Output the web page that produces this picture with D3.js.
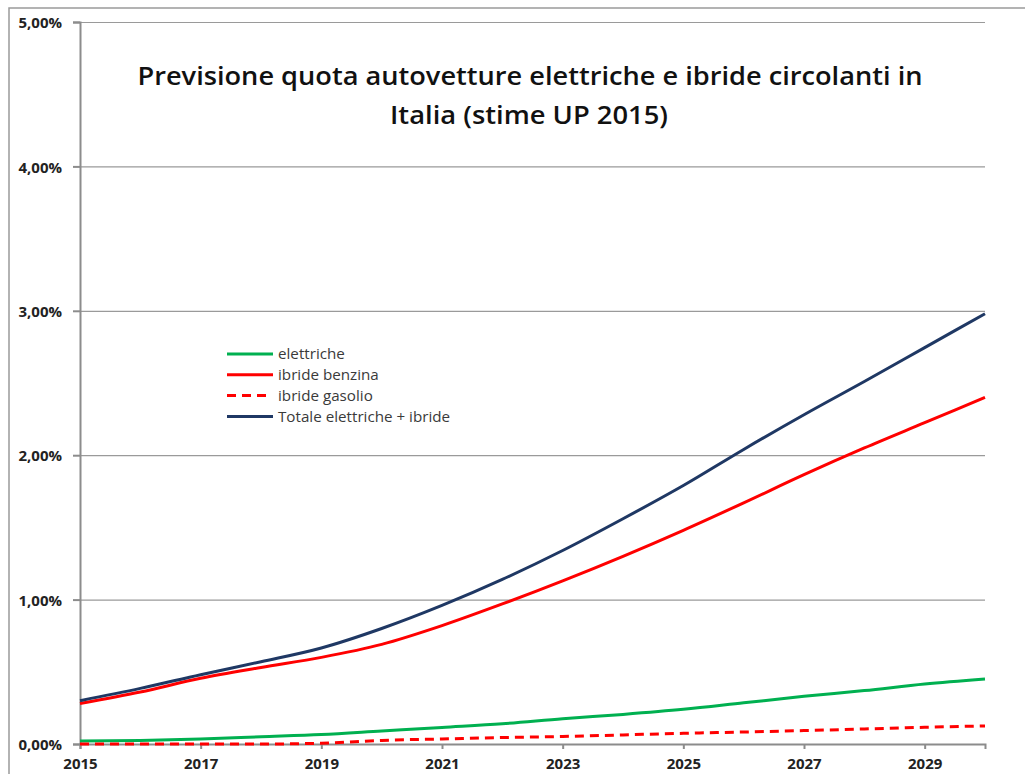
<!DOCTYPE html>
<meta charset="utf-8">
<style>
  body { margin: 0; background: #fff; }
  svg { font-family: "Open Sans", sans-serif; }
  .grid line { stroke: #9a9a9a; stroke-width: 1.2; }
  .grid .domain { display: none; }
  .axis text { font-family: "Open Sans", sans-serif; font-weight: bold; font-size: 15px; fill: #222; }
  .axis line, .axis path { stroke: #8c8c8c; stroke-width: 2; }
  .legend text { font-size: 15.2px; fill: #3a3a3a; }
</style>
<svg width="1025" height="774"></svg>
<script src="https://cdn.jsdelivr.net/npm/d3@7"></script>
<script>
  var years = d3.range(2015, 2031);
  var elettriche = [0.02, 0.025, 0.035, 0.05, 0.065, 0.09, 0.115, 0.14, 0.175, 0.205, 0.24, 0.285, 0.33, 0.37, 0.415, 0.45];
  var ibrideBenzina = [0.28, 0.36, 0.455, 0.53, 0.60, 0.69, 0.82, 0.97, 1.13, 1.30, 1.48, 1.67, 1.865, 2.05, 2.225, 2.40];
  var ibrideGasolio = [0.0, 0.0, 0.0, 0.0, 0.005, 0.025, 0.035, 0.045, 0.052, 0.063, 0.074, 0.083, 0.093, 0.104, 0.116, 0.125];
  var totale = [0.30, 0.385, 0.48, 0.57, 0.665, 0.80, 0.96, 1.14, 1.34, 1.56, 1.79, 2.04, 2.28, 2.51, 2.745, 2.98];
  var yTicks = [0, 1, 2, 3, 4, 5];
  var xTicks = [2015, 2017, 2019, 2021, 2023, 2025, 2027, 2029];

  var series = [
    { name: "elettriche", values: elettriche, color: "#00b050", dash: null, len: 46 },
    { name: "ibride benzina", values: ibrideBenzina, color: "#ff0000", dash: null, len: 46 },
    { name: "ibride gasolio", values: ibrideGasolio, color: "#ff0000", dash: "9,6", len: 39 },
    { name: "Totale elettriche + ibride", values: totale, color: "#1f3864", dash: null, len: 46 }
  ];

  var svg = d3.select("svg");
  var margin = { top: 22, right: 40, bottom: 30, left: 80 };
  var width = 985 - margin.left;
  var height = 744 - margin.top;

  // outer chart frame (runs off the right and bottom of the picture)
  svg.append("rect")
    .attr("x", 9).attr("y", 8)
    .attr("width", 1100).attr("height", 900)
    .attr("fill", "none").attr("stroke", "#9a9a9a").attr("stroke-width", 1.5);

  var g = svg.append("g").attr("transform", "translate(" + margin.left + "," + margin.top + ")");

  var x = d3.scaleLinear().domain([2015, 2030]).range([0, width]);
  var y = d3.scaleLinear().domain([0, 5]).range([height, 0]);

  var fmt = function(d) { return d.toFixed(2).replace(".", ",") + "%"; };

  g.append("g")
    .attr("class", "grid")
    .call(d3.axisLeft(y).tickValues(yTicks.slice(1)).tickSize(-width).tickFormat(""));

  var yAxis = g.append("g")
    .attr("class", "axis")
    .call(d3.axisLeft(y).tickValues(yTicks).tickSizeOuter(0).tickSize(7).tickPadding(11).tickFormat(fmt));
  yAxis.selectAll("text").attr("dy", "0.38em");

  var xAxis = g.append("g")
    .attr("class", "axis")
    .attr("transform", "translate(0," + height + ")")
    .call(d3.axisBottom(x).tickValues(xTicks).tickSizeOuter(0).tickSize(5).tickPadding(8).tickFormat(d3.format("d")));
  xAxis.selectAll("text").attr("dy", "0.82em");

  var line = d3.line()
    .curve(d3.curveMonotoneX)
    .x(function(d, i) { return x(years[i]); })
    .y(function(d) { return y(d); });

  g.selectAll(".series")
    .data(series)
    .enter().append("path")
    .attr("class", "series")
    .attr("fill", "none")
    .attr("stroke", function(d) { return d.color; })
    .attr("stroke-width", 3)
    .attr("stroke-dasharray", function(d) { return d.dash; })
    .attr("d", function(d) { return line(d.values); });

  // title
  var title = svg.append("text")
    .attr("text-anchor", "middle")
    .style("font-size", "25px").style("font-weight", 600).style("fill", "#111");
  title.append("tspan").attr("x", 530).attr("y", 85)
    .attr("textLength", 785).attr("lengthAdjust", "spacingAndGlyphs")
    .text("Previsione quota autovetture elettriche e ibride circolanti in");
  title.append("tspan").attr("x", 529).attr("y", 124)
    .attr("textLength", 278).attr("lengthAdjust", "spacingAndGlyphs")
    .text("Italia (stime UP 2015)");

  // legend
  var legend = svg.append("g").attr("class", "legend").attr("transform", "translate(227,354)");
  var item = legend.selectAll("g")
    .data(series)
    .enter().append("g")
    .attr("transform", function(d, i) { return "translate(0," + (i * 20.8) + ")"; });
  item.append("line")
    .attr("x1", 0).attr("x2", function(d) { return d.len; })
    .attr("stroke", function(d) { return d.color; })
    .attr("stroke-width", 3)
    .attr("stroke-dasharray", function(d) { return d.dash; });
  item.append("text")
    .attr("x", 51).attr("dy", "0.35em")
    .text(function(d) { return d.name; });
</script>
